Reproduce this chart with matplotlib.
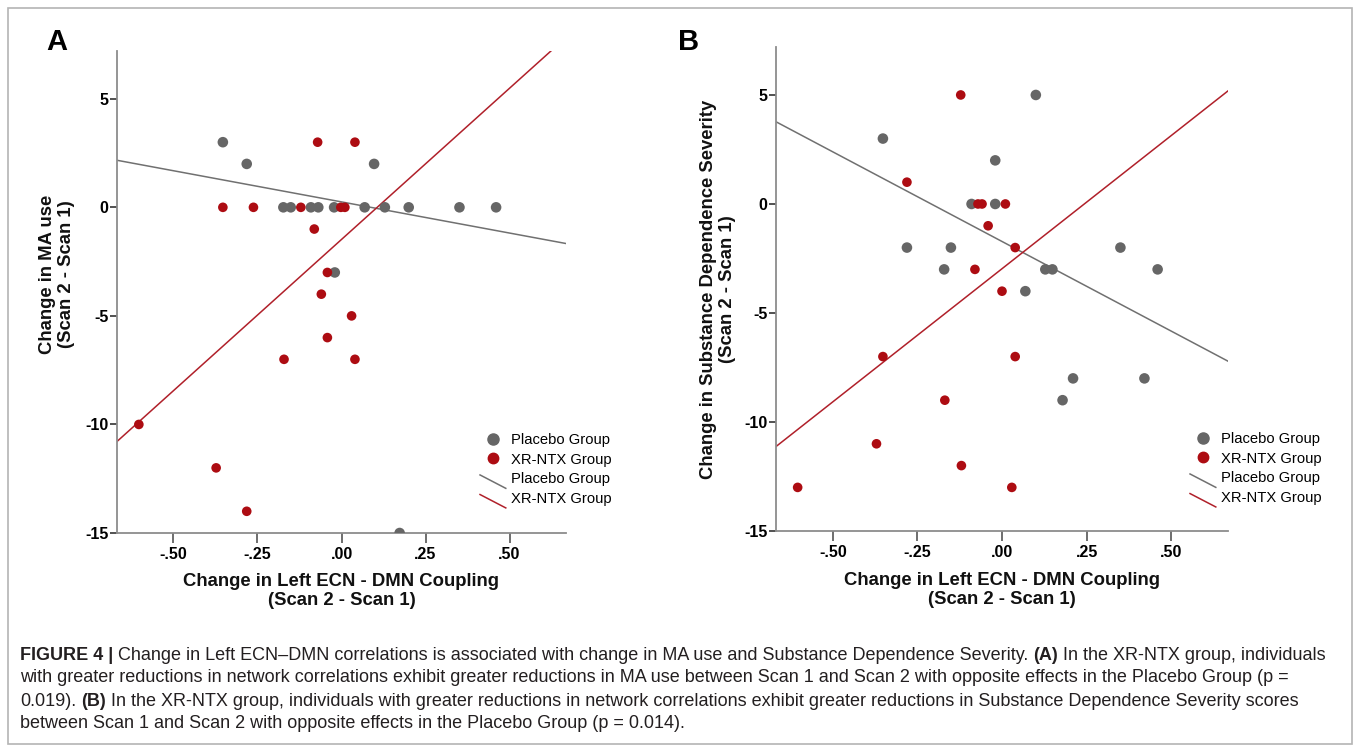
import matplotlib
matplotlib.use("Agg")
import matplotlib.pyplot as plt
import numpy as np
from matplotlib.lines import Line2D
from matplotlib.legend_handler import HandlerBase
from matplotlib.patches import Rectangle
from matplotlib.font_manager import FontProperties

SANS = ["Liberation Sans", "DejaVu Sans"]

# ---- data ----
# panel A: change in MA use
a_placebo_x = [-0.353, -0.282, 0.097, -0.173, -0.151, -0.091, -0.069, -0.022,
               0.069, 0.129, 0.200, 0.351, 0.460, -0.020, 0.173]
a_placebo_y = [3, 2, 2, 0, 0, 0, 0, 0, 0, 0, 0, 0, 0, -3, -15]
a_xrntx_x = [-0.353, -0.262, -0.121, -0.002, 0.010, -0.071, 0.040, -0.081,
             -0.042, -0.060, 0.030, -0.042, -0.171, 0.040, -0.603, -0.373, -0.282]
a_xrntx_y = [0, 0, 0, 0, 0, 3, 3, -1, -3, -4, -5, -6, -7, -7, -10, -12, -14]
a_placebo_fit = (0.25, -2.87)     # intercept, slope
a_xrntx_fit = (-1.48, 13.93)

# panel B: change in substance dependence severity
b_placebo_x = [0.100, -0.352, -0.020, -0.090, -0.020, -0.281, -0.151, 0.350,
               -0.171, 0.128, 0.149, 0.460, 0.069, 0.210, 0.421, 0.179]
b_placebo_y = [5, 3, 2, 0, 0, -2, -2, -2, -3, -3, -3, -3, -4, -8, -8, -9]
b_xrntx_x = [-0.122, -0.281, -0.071, -0.059, 0.010, -0.041, 0.039, -0.080,
             0.000, -0.352, 0.039, -0.169, -0.371, -0.120, -0.604, 0.029]
b_xrntx_y = [5, 1, 0, 0, 0, -1, -2, -3, -4, -7, -7, -9, -11, -12, -13, -13]
b_placebo_fit = (-1.72, -8.22)
b_xrntx_fit = (-2.97, 12.21)

x_ticks = [-0.5, -0.25, 0.0, 0.25, 0.5]
x_tick_labels = ["-.50", "-.25", ".00", ".25", ".50"]
y_ticks = [-15, -10, -5, 0, 5]
y_tick_labels = ["-15", "-10", "-5", "0", "5"]
group_labels = ["Placebo Group", "XR-NTX Group"]

GRAY_DOT = "#666666"
RED_DOT = "#ad0c12"
GRAY_LINE = "#707070"
RED_LINE = "#b0202a"

W, H = 1355, 746
fig = plt.figure(figsize=(W / 100, H / 100), dpi=100)
ax_a = fig.add_axes([117 / W, 1 - 533 / H, 449 / W, 482 / H])
ax_b = fig.add_axes([776 / W, 1 - 531 / H, 452 / W, 484 / H])


class DiagHandler(HandlerBase):
    def create_artists(self, legend, orig_handle, xdescent, ydescent,
                       width, height, fontsize, trans):
        ln = Line2D([-xdescent, -xdescent + width],
                    [-ydescent + height * 0.8, -ydescent - height * 0.5],
                    color=orig_handle.get_color(),
                    lw=orig_handle.get_linewidth(), transform=trans)
        return [ln]


def draw_panel(ax, px, py, rx, ry, pfit, rfit, leg_anchor):
    ax.set_xlim(-0.668, 0.668)
    ax.set_ylim(-15, 7.2)
    for s in ["top", "right"]:
        ax.spines[s].set_visible(False)
    for s in ["left", "bottom"]:
        ax.spines[s].set_color("#8c8c8c")
        ax.spines[s].set_linewidth(1.3)
    ax.set_xticks(x_ticks)
    ax.set_xticklabels(x_tick_labels, family=SANS, fontweight="bold", fontsize=11.5)
    ax.set_yticks(y_ticks)
    ax.set_yticklabels(y_tick_labels, family=SANS, fontweight="bold", fontsize=11.5)
    ax.tick_params(axis="x", length=7, width=1.2, color="#555555", pad=3)
    ax.tick_params(axis="y", length=5, width=1.2, color="#333333", pad=1)

    ax.scatter(px, py, s=58, color=GRAY_DOT, edgecolors="none", zorder=3)
    ax.scatter(rx, ry, s=48, color=RED_DOT, edgecolors="none", zorder=3)

    xs = np.array(ax.get_xlim())
    ax.plot(xs, pfit[0] + pfit[1] * xs, color=GRAY_LINE, lw=1.1, zorder=2)
    ax.plot(xs, rfit[0] + rfit[1] * xs, color=RED_LINE, lw=1.1, zorder=2)

    h_gd = Line2D([], [], marker="o", ls="none", color=GRAY_DOT, markersize=8)
    h_rd = Line2D([], [], marker="o", ls="none", color=RED_DOT, markersize=7.5)
    h_gl = Line2D([], [], color=GRAY_LINE, lw=1.1)
    h_rl = Line2D([], [], color=RED_LINE, lw=1.1)
    ax.legend([h_gd, h_rd, h_gl, h_rl], group_labels + group_labels,
              handler_map={h_gl: DiagHandler(), h_rl: DiagHandler()},
              loc="upper left", bbox_to_anchor=leg_anchor, frameon=False,
              prop=FontProperties(family=SANS, size=10.6),
              handlelength=1.75, handletextpad=0.35, labelspacing=0.38,
              borderpad=0, borderaxespad=0)


draw_panel(ax_a, a_placebo_x, a_placebo_y, a_xrntx_x, a_xrntx_y,
           a_placebo_fit, a_xrntx_fit, (0.8085, 0.2075))
draw_panel(ax_b, b_placebo_x, b_placebo_y, b_xrntx_x, b_xrntx_y,
           b_placebo_fit, b_xrntx_fit, (0.916, 0.2045))

lab_kw = dict(family=SANS, fontweight="bold", fontsize=13.3, color="#111111",
              ha="center", va="center", linespacing=1.12)
fig.text(341.5 / W, 1 - 591 / H, "Change in Left ECN - DMN Coupling\n(Scan 2 - Scan 1)", **lab_kw)
fig.text(1002 / W, 1 - 590 / H, "Change in Left ECN - DMN Coupling\n(Scan 2 - Scan 1)", **lab_kw)
fig.text(57 / W, 1 - 274 / H, "Change in MA use\n(Scan 2 - Scan 1)", rotation=90, **lab_kw)
fig.text(718 / W, 1 - 289 / H, "Change in Substance Dependence Severity\n(Scan 2 - Scan 1)",
         rotation=90, **lab_kw)

fig.text(46 / W, 1 - 42 / H, "A", family=SANS, fontweight="bold", fontsize=21,
         ha="left", va="center")
fig.text(678 / W, 1 - 42 / H, "B", family=SANS, fontweight="bold", fontsize=21,
         ha="left", va="center")

fig.add_artist(Rectangle((8 / W, 2 / H), 1344 / W, 736 / H, transform=fig.transFigure,
                         fill=False, edgecolor="#b4b4b4", lw=1.2))

# caption with mixed weights
caption = [
    [("FIGURE 4 |", True),
     ("Change in Left ECN\u2013DMN correlations is associated with change in MA use and Substance Dependence Severity.", False),
     ("(A)", True), ("In the XR-NTX group, individuals", False)],
    [("with greater reductions in network correlations exhibit greater reductions in MA use between Scan 1 and Scan 2 with opposite effects in the Placebo Group (p =", False)],
    [("0.019).", False), ("(B)", True),
     ("In the XR-NTX group, individuals with greater reductions in network correlations exhibit greater reductions in Substance Dependence Severity scores", False)],
    [("between Scan 1 and Scan 2 with opposite effects in the Placebo Group (p = 0.014).", False)],
]
cap_kw = dict(family=SANS, fontsize=13.0, color="#231f20", va="center", ha="left")
renderer = fig.canvas.get_renderer()
t1 = fig.text(0, 0, "a a", **cap_kw)
t2 = fig.text(0, 0, "aa", **cap_kw)
space_px = t1.get_window_extent(renderer).width - t2.get_window_extent(renderer).width
t1.remove()
t2.remove()
for i, pieces in enumerate(caption):
    y = 1 - (655 + 23 * i) / H
    x_px = 20
    for txt, bold in pieces:
        t = fig.text(x_px / W, y, txt, fontweight="bold" if bold else "normal", **cap_kw)
        x_px += t.get_window_extent(renderer).width + space_px

fig.savefig("out.png", dpi=100)
